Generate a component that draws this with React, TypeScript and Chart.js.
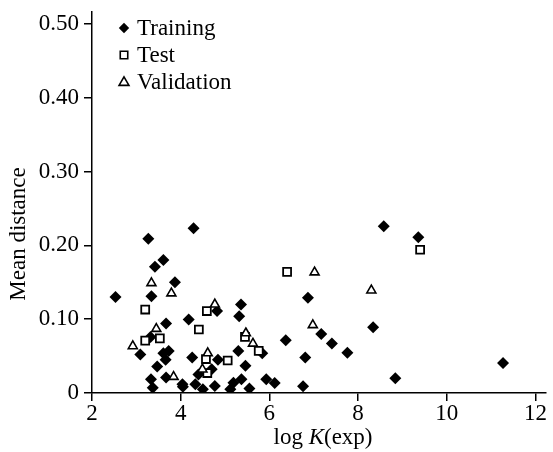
import React, { useEffect, useRef } from "react";
import { Chart, registerables } from "chart.js";

Chart.register(...registerables);

const trainX = [2.53, 3.09, 3.27, 3.32, 3.33, 3.34, 3.37, 3.42, 3.47, 3.61, 3.61, 3.67, 3.66, 3.67, 3.73, 3.87, 4.04, 4.05, 4.18, 4.26, 4.29, 4.33, 4.4, 4.5, 4.7, 4.77, 4.82, 4.84, 5.12, 5.19, 5.32, 5.3, 5.36, 5.37, 5.46, 5.55, 5.84, 5.93, 6.12, 6.37, 6.76, 6.81, 6.87, 7.17, 7.41, 7.76, 8.34, 8.58, 8.84, 9.36, 11.27];
const trainY = [0.13, 0.052, 0.209, 0.076, 0.0185, 0.131, 0.007, 0.171, 0.036, 0.054, 0.18, 0.094, 0.045, 0.021, 0.057, 0.15, 0.012, 0.0085, 0.0995, 0.048, 0.223, 0.012, 0.025, 0.005, 0.032, 0.0095, 0.111, 0.045, 0.005, 0.014, 0.104, 0.057, 0.12, 0.0185, 0.037, 0.006, 0.054, 0.0185, 0.0135, 0.0716, 0.009, 0.048, 0.129, 0.08, 0.067, 0.0545, 0.089, 0.226, 0.02, 0.211, 0.0405];

const testX = [3.2, 3.2, 3.53, 4.41, 4.59, 4.57, 4.6, 5.06, 5.45, 5.76, 6.4, 9.4];
const testY = [0.113, 0.071, 0.074, 0.086, 0.111, 0.046, 0.027, 0.044, 0.076, 0.057, 0.164, 0.194];

const valX = [2.92, 3.34, 3.45, 3.79, 3.84, 4.49, 4.61, 4.77, 5.47, 5.63, 6.98, 7.02, 8.3];
const valY = [0.0635, 0.149, 0.087, 0.135, 0.022, 0.032, 0.054, 0.12, 0.081, 0.067, 0.092, 0.1635, 0.139];

const xTicks = [2, 4, 6, 8, 10, 12];
const yTicks = [0, 0.1, 0.2, 0.3, 0.4, 0.5];
const seriesNames = ["Training", "Test", "Validation"];

const FONT = "'Liberation Serif', 'Times New Roman', serif";
const FS = 23;

const toPts = (xs: number[], ys: number[]) => xs.map((x, i) => ({ x, y: ys[i] }));

function drawMarker(ctx: CanvasRenderingContext2D, kind: string, x: number, y: number, r: number) {
  ctx.save();
  ctx.beginPath();
  if (kind === "diamond") {
    ctx.moveTo(x, y - r);
    ctx.lineTo(x + r, y);
    ctx.lineTo(x, y + r);
    ctx.lineTo(x - r, y);
    ctx.closePath();
    ctx.fillStyle = "#000";
    ctx.fill();
  } else if (kind === "square") {
    const s = r * 0.72;
    ctx.rect(x - s, y - s, 2 * s, 2 * s);
    ctx.fillStyle = "#fff";
    ctx.fill();
    ctx.lineWidth = 1.6;
    ctx.strokeStyle = "#000";
    ctx.stroke();
  } else {
    const h = r;
    ctx.moveTo(x, y - h);
    ctx.lineTo(x + h * 0.95, y + h * 0.65);
    ctx.lineTo(x - h * 0.95, y + h * 0.65);
    ctx.closePath();
    ctx.fillStyle = "#fff";
    ctx.fill();
    ctx.lineWidth = 1.6;
    ctx.strokeStyle = "#000";
    ctx.stroke();
  }
  ctx.restore();
}

const annotPlugin = {
  id: "annot",
  afterDraw(chart: any) {
    const ctx: CanvasRenderingContext2D = chart.ctx;
    ctx.save();
    // legend
    const kinds = ["diamond", "square", "triangle"];
    const lx = 124;
    const ys = [28, 55, 82];
    ctx.font = `${FS}px ${FONT}`;
    ctx.fillStyle = "#000";
    ctx.textBaseline = "middle";
    ctx.textAlign = "left";
    seriesNames.forEach((name, i) => {
      drawMarker(ctx, kinds[i], lx, ys[i], 5.2);
      ctx.fillStyle = "#000";
      ctx.fillText(name, 137, ys[i] + 1);
    });
    // x title
    const parts = [
      { t: "log ", f: `${FS}px ${FONT}` },
      { t: "K", f: `italic ${FS}px ${FONT}` },
      { t: "(exp)", f: `${FS}px ${FONT}` },
    ];
    let total = 0;
    parts.forEach((p) => {
      ctx.font = p.f;
      total += ctx.measureText(p.t).width;
    });
    let cx = 323 - total / 2;
    ctx.textBaseline = "alphabetic";
    parts.forEach((p) => {
      ctx.font = p.f;
      ctx.fillText(p.t, cx, 444);
      cx += ctx.measureText(p.t).width;
    });
    // y title
    ctx.translate(19, 234);
    ctx.rotate(-Math.PI / 2);
    ctx.font = `${FS}px ${FONT}`;
    ctx.textAlign = "center";
    ctx.textBaseline = "middle";
    ctx.fillText("Mean distance", 0, 0);
    ctx.restore();
  },
};

export default function App() {
  const ref = useRef<HTMLCanvasElement | null>(null);
  useEffect(() => {
    document.body.style.margin = "0";
    if (!ref.current) return;
    const chart = new Chart(ref.current, {
      type: "scatter",
      data: {
        datasets: [
          {
            label: seriesNames[0],
            data: toPts(trainX, trainY),
            pointStyle: "rectRot",
            pointRadius: 6,
            backgroundColor: "#000",
            borderColor: "#000",
            borderWidth: 0,
            order: 3,
          },
          {
            label: seriesNames[1],
            data: toPts(testX, testY),
            pointStyle: "rect",
            pointRadius: 5.6,
            backgroundColor: "#fff",
            borderColor: "#000",
            borderWidth: 1.8,
            order: 2,
          },
          {
            label: seriesNames[2],
            data: toPts(valX, valY),
            pointStyle: "triangle",
            pointRadius: 5.2,
            backgroundColor: "#fff",
            borderColor: "#000",
            borderWidth: 1.6,
            order: 1,
          },
        ],
      },
      options: {
        animation: false,
        responsive: true,
        maintainAspectRatio: false,
        layout: { padding: { top: 12, right: 3, left: 0, bottom: 0 } },
        plugins: { legend: { display: false }, tooltip: { enabled: false } },
        scales: {
          x: {
            type: "linear",
            min: 2,
            max: 12.23,
            afterBuildTicks: (s: any) => {
              s.ticks = xTicks.map((v) => ({ value: v }));
            },
            afterFit: (s: any) => {
              s.height = 59;
              s.paddingLeft = 0;
              s.paddingRight = 0;
            },
            ticks: {
              color: "#000",
              font: { family: FONT, size: FS },
              padding: -1,
              maxRotation: 0,
              callback: (v: any) => String(v),
            },
            grid: { drawOnChartArea: false, drawTicks: true, tickLength: 8, color: "#000", lineWidth: 1.5 },
            border: { display: true, color: "#000", width: 1.5 },
          },
          y: {
            type: "linear",
            min: 0,
            max: 0.516,
            afterBuildTicks: (s: any) => {
              s.ticks = yTicks.map((v) => ({ value: v }));
            },
            afterFit: (s: any) => {
              s.width = 92;
              s.paddingTop = 0;
              s.paddingBottom = 0;
            },
            ticks: {
              color: "#000",
              font: { family: FONT, size: FS },
              padding: 5,
              callback: (v: any) => (Number(v) === 0 ? "0" : Number(v).toFixed(2)),
            },
            grid: { drawOnChartArea: false, drawTicks: true, tickLength: 8, color: "#000", lineWidth: 1.5 },
            border: { display: true, color: "#000", width: 1.5 },
          },
        },
      },
      plugins: [annotPlugin],
    });
    return () => chart.destroy();
  }, []);
  return (
    <div style={{ position: "absolute", left: 0, top: 0, width: 553, height: 452, background: "#fff" }}>
      <canvas ref={ref} />
    </div>
  );
}
